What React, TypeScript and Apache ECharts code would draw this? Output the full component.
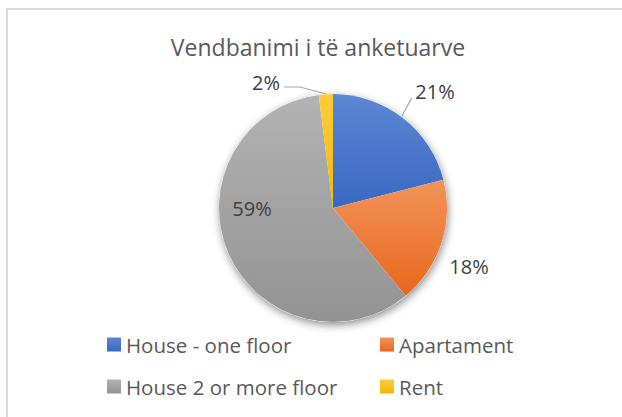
import React, { useEffect, useRef } from "react";
import * as echarts from "echarts";

const titleText = "Vendbanimi i të anketuarve";
const categories = ["House - one floor", "Apartament", "House 2 or more floor", "Rent"];
const values = [21, 18, 59, 2];
const colorTop = ["#5B87D4", "#F3935A", "#B3B3B3", "#FFCB3D"];
const colorBottom = ["#3A68C2", "#E8681C", "#939393", "#F2B800"];

// label layout (centers) and leader lines
const labelPos: Record<number, { x: number; y: number; line?: number[][] }> = {
  0: { x: 435, y: 91, line: [[402, 116], [410, 101], [412, 98]] },
  1: { x: 469, y: 266 },
  2: { x: 252, y: 208 },
  3: { x: 266, y: 82, line: [[326, 94], [300, 87], [284, 87]] },
};

function grad(i: number) {
  return new echarts.graphic.LinearGradient(0, 0, 0, 1, [
    { offset: 0, color: colorTop[i] },
    { offset: 1, color: colorBottom[i] },
  ]);
}

export default function App() {
  const ref = useRef<HTMLDivElement>(null);
  useEffect(() => {
    if (!ref.current) return;
    const chart = echarts.init(ref.current, undefined, { renderer: "svg" });
    const font = "'Open Sans', 'Noto Sans', sans-serif";
    const legendCommon = {
      orient: "vertical",
      top: 329,
      itemWidth: 14,
      itemHeight: 14,
      itemGap: 21,
      icon: "rect",
      selectedMode: false,
      textStyle: { fontFamily: font, fontSize: 20.5, color: "#595959", lineHeight: 21 },
    };
    chart.setOption({
      animation: false,
      backgroundColor: "#ffffff",
      textStyle: { fontFamily: font },
      title: {
        text: titleText,
        left: 313,
        textAlign: "center",
        top: 30,
        textStyle: { fontFamily: font, fontSize: 23, fontWeight: "normal", color: "#595959" },
      },
      graphic: [
        {
          type: "rect",
          shape: { x: 7, y: 9, width: 700, height: 500 },
          style: { fill: "none", stroke: "#D9D9D9", lineWidth: 2 },
          silent: true,
          z: -10,
        },
      ],
      legend: [
        { ...legendCommon, data: [categories[0], categories[2]], left: 102 },
        { ...legendCommon, data: [categories[1], categories[3]], left: 375 },
      ],
      series: [
        {
          type: "pie",
          name: "shadow",
          center: [333, 208],
          radius: 114,
          silent: true,
          z: 1,
          label: { show: false },
          labelLine: { show: false },
          itemStyle: {
            color: "#ffffff",
            shadowBlur: 9,
            shadowColor: "rgba(0,0,0,0.45)",
            shadowOffsetX: 1,
            shadowOffsetY: 3,
          },
          data: [{ value: 1, name: "" }],
        },
        {
          type: "pie",
          name: titleText,
          center: [333, 208],
          radius: 114,
          startAngle: 90,
          clockwise: true,
          z: 2,
          emphasis: { disabled: true },
          label: {
            show: true,
            formatter: "{d}%",
            fontFamily: font,
            fontSize: 20,
            color: "#404040",
          },
          labelLine: { show: true, lineStyle: { color: "#A6A6A6", width: 1.2 } },
          labelLayout: (p: any) => {
            const l = labelPos[p.dataIndex];
            const o: any = { x: l.x, y: l.y, align: "center", verticalAlign: "middle" };
            if (l.line) o.labelLinePoints = l.line;
            return o;
          },
          data: categories.map((name, i) => ({
            name,
            value: values[i],
            itemStyle: { color: grad(i) },
            label: i === 2 ? { position: "inside" } : {},
            labelLine: { show: !!labelPos[i].line },
          })),
        },
      ],
    });
    return () => chart.dispose();
  }, []);
  return (
    <div
      ref={ref}
      style={{ position: "absolute", left: 0, top: 0, width: 622, height: 417 }}
    />
  );
}
